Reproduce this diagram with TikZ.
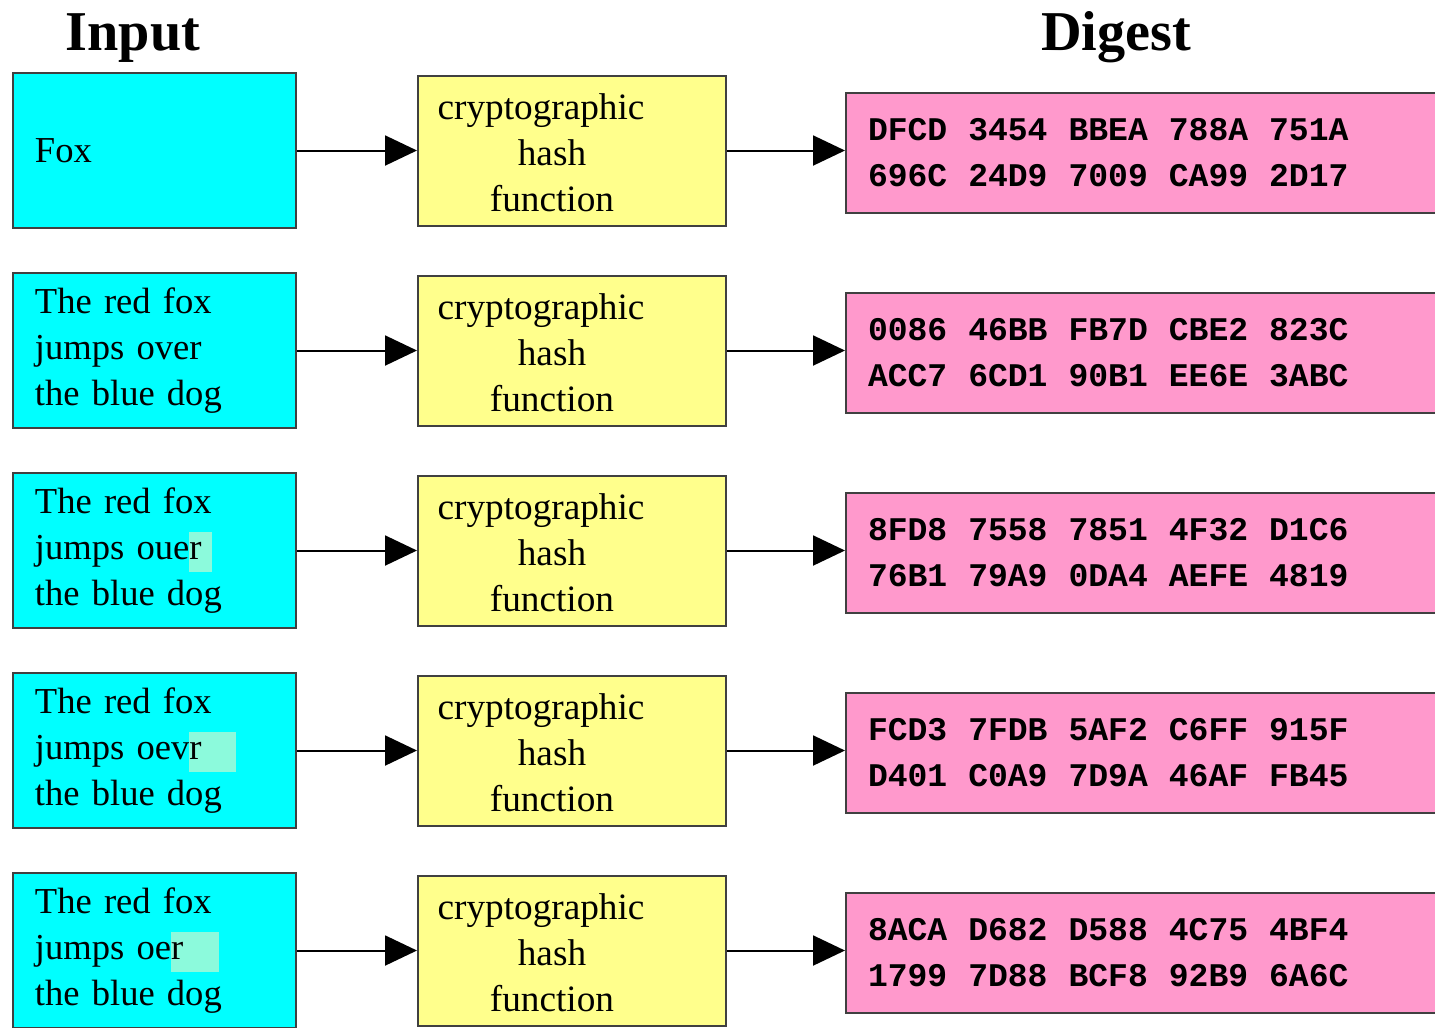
\documentclass[tikz,border=0pt]{standalone}
\usepackage{fontspec}
\setmainfont{Liberation Serif}
\setmonofont{Liberation Mono}
\usetikzlibrary{positioning,arrows.meta}

\definecolor{incyan}{RGB}{0,255,255}
\definecolor{hashyellow}{RGB}{255,255,140}
\definecolor{digpink}{RGB}{255,153,204}
\definecolor{hilite}{RGB}{140,250,220}

% tinted patch behind the changed letters
\newcommand{\hilite}[2]{\makebox[0pt][l]{\color{hilite}\rule[-0.13cm]{#1}{0.40cm}}#2}

\begin{document}
\begin{tikzpicture}[>={Triangle[length=0.32cm,width=0.30cm]},line width=0.02cm,
  inbox/.style={draw=black!75,fill=incyan,minimum height=1.55cm,text width=2.39cm,
    inner xsep=0.22cm,align=left,font=\fontsize{10.4}{13.1}\selectfont},
  hashbox/.style={draw=black!75,fill=hashyellow,minimum width=3.08cm,minimum height=1.50cm},
  digbox/.style={draw=black!75,fill=digpink,minimum height=1.20cm,text width=5.56cm,
    inner xsep=0.22cm,align=left,font=\ttfamily\bfseries\fontsize{9.4}{13.1}\selectfont,
    execute at begin node={\spaceskip=0.21cm\relax}},
  title/.style={font=\bfseries\fontsize{16}{19}\selectfont,anchor=base},
  hashtext/.style={label={[align=center,xshift=-0.2cm,yshift=-0.02cm,font=\fontsize{10.6}{13.1}\selectfont]center:\hspace*{-0.22cm}cryptographic\\hash\\function}}]

  \useasboundingbox (0,0) rectangle (14.35,-10.27);

  \node[title] (input) at (1.33,-0.50) {Input};
  \node[title] (digest) at (11.16,-0.50) {Digest};

  \node[inbox] (in1) at (1.545,-1.505) {Fox};
  \node[inbox] (in2) [below=0.43cm of in1] {The red fox\\jumps over\\the blue dog};
  \node[inbox] (in3) [below=0.43cm of in2] {The red fox\\jumps oue\hilite{0.23cm}{r}\\the blue dog};
  \node[inbox] (in4) [below=0.43cm of in3] {The red fox\\jumps oev\hilite{0.47cm}{r}\\the blue dog};
  \node[inbox] (in5) [below=0.43cm of in4] {The red fox\\jumps oe\hilite{0.48cm}{r}\\the blue dog};

  \node[hashbox,hashtext] (h1) [right=1.20cm of in1] {};
  \node[hashbox,hashtext] (h2) [right=1.20cm of in2] {};
  \node[hashbox,hashtext] (h3) [right=1.20cm of in3] {};
  \node[hashbox,hashtext] (h4) [right=1.20cm of in4] {};
  \node[hashbox,hashtext] (h5) [right=1.20cm of in5] {};

  \node[digbox] (d1) [right=1.18cm of h1, yshift=-0.02cm] {DFCD 3454 BBEA 788A 751A\\696C 24D9 7009 CA99 2D17};
  \node[digbox] (d2) [right=1.18cm of h2, yshift=-0.02cm] {0086 46BB FB7D CBE2 823C\\ACC7 6CD1 90B1 EE6E 3ABC};
  \node[digbox] (d3) [right=1.18cm of h3, yshift=-0.02cm] {8FD8 7558 7851 4F32 D1C6\\76B1 79A9 0DA4 AEFE 4819};
  \node[digbox] (d4) [right=1.18cm of h4, yshift=-0.02cm] {FCD3 7FDB 5AF2 C6FF 915F\\D401 C0A9 7D9A 46AF FB45};
  \node[digbox] (d5) [right=1.18cm of h5, yshift=-0.02cm] {8ACA D682 D588 4C75 4BF4\\1799 7D88 BCF8 92B9 6A6C};

  \path[->]
  (in1) edge (h1)
  (h1) edge (h1 -| d1.west)

  (in2) edge (h2)
  (h2) edge (h2 -| d2.west)

  (in3) edge (h3)
  (h3) edge (h3 -| d3.west)

  (in4) edge (h4)
  (h4) edge (h4 -| d4.west)

  (in5) edge (h5)
  (h5) edge (h5 -| d5.west)
  ;
\end{tikzpicture}
\end{document}
